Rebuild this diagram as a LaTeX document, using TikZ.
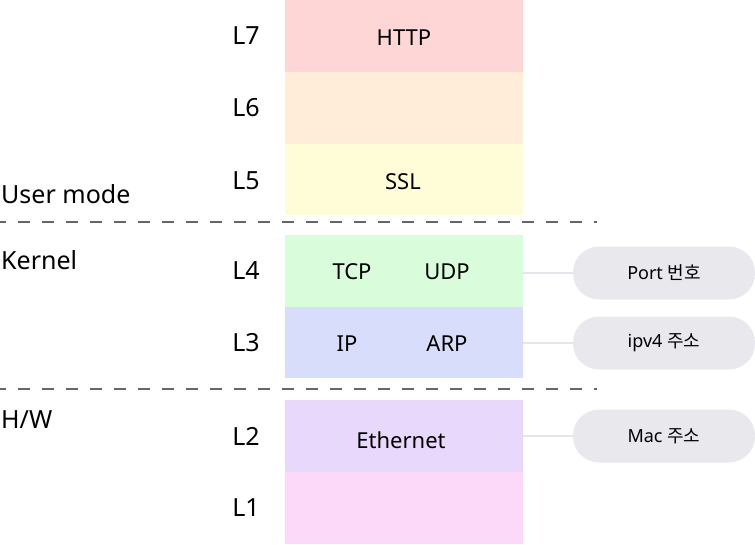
\documentclass[tikz,border=0pt]{standalone}
\usepackage{fontspec}
\setmainfont{Noto Sans}
\newfontfamily\krfont{Noto Sans CJK KR}
\usetikzlibrary{positioning}
\definecolor{layerA}{HTML}{FFD6D6}
\definecolor{layerB}{HTML}{FFEDDA}
\definecolor{layerC}{HTML}{FFFCD8}
\definecolor{layerD}{HTML}{D9FCDB}
\definecolor{layerE}{HTML}{D9DDFC}
\definecolor{layerF}{HTML}{E8D9FC}
\definecolor{layerG}{HTML}{FCD9F8}
\definecolor{pillgray}{HTML}{E9E8ED}
\definecolor{linkgray}{HTML}{E6E5EC}
\definecolor{sepgray}{HTML}{666666}

\tikzset{
  layer/.style={minimum width=238pt, minimum height=72pt, inner sep=0pt, outer sep=0pt},
  proto/.style={font=\fontsize{22}{26}\selectfont, inner sep=0pt},
  lname/.style={font=\fontsize{25}{28}\selectfont, inner sep=0pt},
  pill/.style={fill=pillgray, rounded corners=26pt, minimum width=182pt, minimum height=53pt,
    inner sep=0pt, font=\fontsize{18}{21}\selectfont},
  link/.style={draw=linkgray, line width=2pt},
  sepline/.style={draw=sepgray, line width=1.3pt, dash pattern=on 12pt off 12pt, dash phase=6pt}
}

\begin{document}
\begin{tikzpicture}[x=1pt, y=-1pt]
    \useasboundingbox (0,0) rectangle (755,544);

    % User mode layers
    \node[layer, fill=layerA] (L7) at (404,36) {};
    \node[layer, fill=layerB, below=0pt of L7] (L6) {};
    \node[layer, fill=layerC, minimum height=71pt, below=0pt of L6] (L5) {};
    \node[proto] (http) at (404,37.5) {HTTP};
    \node[proto] (ssl) at (403,181.5) {SSL};

    % Kernel layers
    \node[layer, fill=layerD] (L4) at (404,271) {};
    \node[layer, fill=layerE, minimum height=71pt, below=0pt of L4] (L3) {};
    \node[proto] (tcp) at (352,272) {TCP};
    \node[proto] (udp) at (447,272) {UDP};
    \node[proto] (ip) at (347,344) {IP};
    \node[proto] (arp) at (447,344) {ARP};

    % Hardware layers
    \node[layer, fill=layerF] (L2) at (404,436) {};
    \node[layer, fill=layerG, below=0pt of L2] (L1) {};
    \node[proto] (eth) at (401,440.5) {Ethernet};

    % layer numbers
    \node[lname] (n7) at (246,36) {L7};
    \node[lname] (n6) at (246,108) {L6};
    \node[lname] (n5) at (246,181) {L5};
    \node[lname] (n4) at (246,271) {L4};
    \node[lname] (n3) at (246,343) {L3};
    \node[lname] (n2) at (246,436) {L2};
    \node[lname] (n1) at (246,508) {L1};

    % modes
    \node[lname, anchor=base west] (user) at (1,203) {User mode};
    \node[lname, anchor=base west] (kernel) at (1,269) {Kernel};
    \node[lname, anchor=base west] (hw) at (1,428) {H/W};
    \draw[sepline] (0,222) -- (597,222);
    \draw[sepline] (0,389) -- (597,389);

    % addresses
    \node[pill] (port) at (664,273) {Port {\krfont 번호}};
    \node[pill] (ipv4) at (664,343) {ipv4 {\krfont 주소}};
    \node[pill] (mac) at (664,436) {Mac {\krfont 주소}};
    \draw[link] (L4.east |- port.west) -- (port.west);
    \draw[link] (L3.east |- ipv4.west) -- (ipv4.west);
    \draw[link] (L2.east |- mac.west) -- (mac.west);
\end{tikzpicture}
\end{document}
